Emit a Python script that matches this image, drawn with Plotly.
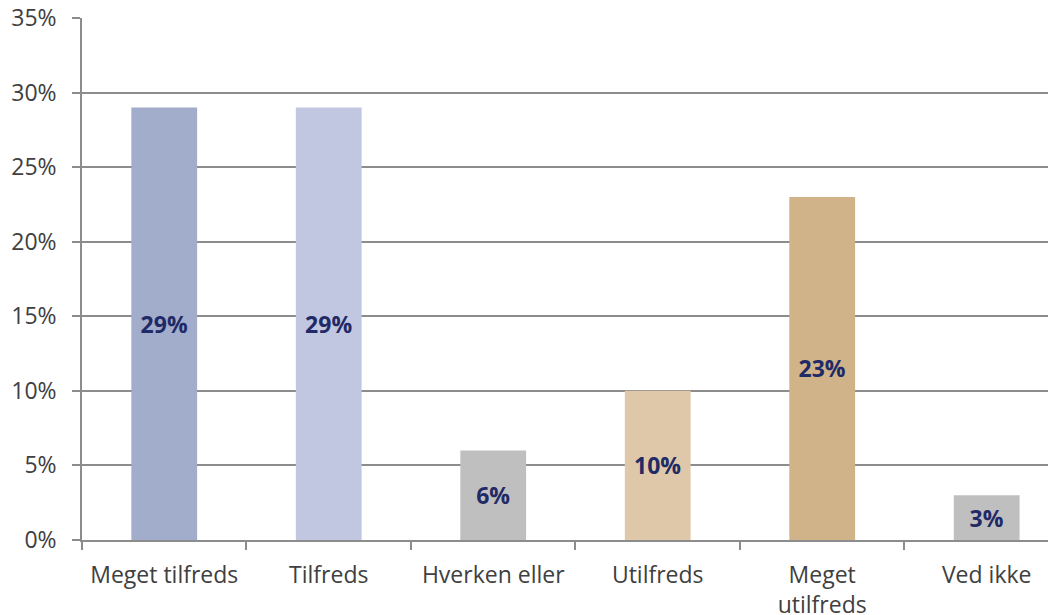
import plotly.graph_objects as go

categories = ["Meget tilfreds", "Tilfreds", "Hverken eller", "Utilfreds", "Meget<br>utilfreds", "Ved ikke"]
values = [29, 29, 6, 10, 23, 3]
labels = ["29%", "29%", "6%", "10%", "23%", "3%"]
colors = ["#A2ACCB", "#C2C7E1", "#BFBFBF", "#DEC8A9", "#D1B38A", "#BFBFBF"]

FONT = "Open Sans, sans-serif"
SIZE = 23

fig = go.Figure(go.Bar(
    x=categories, y=values, marker=dict(color=colors, line=dict(width=0)),
    width=0.4, text=labels, textposition="inside", insidetextanchor="middle",
    textangle=0,
    textfont=dict(family=FONT, size=SIZE, color="#1F2A66", weight="bold"),
    hoverinfo="skip",
))

# page body adds an 8px offset, margins compensate
fig.update_layout(
    width=1056, height=615,
    margin=dict(l=74, r=0, t=10, b=83),
    plot_bgcolor="white", paper_bgcolor="white",
    showlegend=False,
    font=dict(family=FONT, size=SIZE, color="#404040"),
    uniformtext=dict(mode=False),
)
fig.update_xaxes(
    type="category", range=[-0.5, 5.47], tickson="boundaries",
    ticks="outside", ticklen=8, tickcolor="#8C8C8C", tickwidth=1.5,
    showline=True, linecolor="#8C8C8C", linewidth=1.5,
    showgrid=False, tickfont=dict(family=FONT, size=SIZE, color="#404040"),
    automargin=False, ticklabelstandoff=14, ticklabeloverflow="allow",
)
fig.update_yaxes(
    range=[0, 35], tickvals=[0, 5, 10, 15, 20, 25, 30, 35],
    ticktext=["0%", "5%", "10%", "15%", "20%", "25%", "30%", "35%"],
    ticks="outside", ticklen=8, tickcolor="#8C8C8C", tickwidth=1.5,
    showline=True, linecolor="#8C8C8C", linewidth=1.5,
    showgrid=True, gridcolor="#8C8C8C", gridwidth=1.5,
    zeroline=False, tickfont=dict(family=FONT, size=SIZE, color="#404040"),
    automargin=False, ticklabelstandoff=11, ticklabeloverflow="allow",
)

fig.write_html("out.html")
